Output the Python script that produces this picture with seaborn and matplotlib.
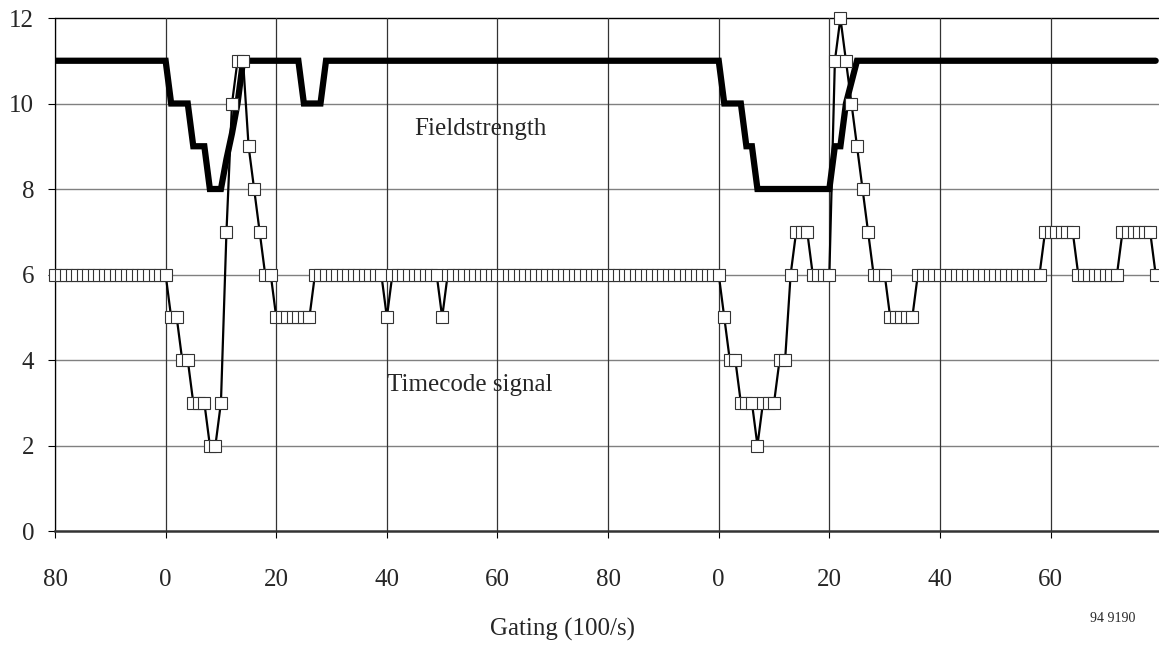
import matplotlib
matplotlib.use("Agg")
import matplotlib.pyplot as plt
import seaborn as sns
import numpy as np
import pandas as pd

# ---- data (one sample per 1/100 s) ----
timecode = [
    6, 6, 6, 6, 6, 6, 6, 6, 6, 6, 6, 6, 6, 6, 6, 6, 6, 6, 6, 6,
    6, 5, 5, 4, 4, 3, 3, 3, 2, 2, 3, 7, 10, 11, 11, 9, 8, 7, 6, 6,
    5, 5, 5, 5, 5, 5, 5, 6, 6, 6, 6, 6, 6, 6, 6, 6, 6, 6, 6, 6,
    5, 6, 6, 6, 6, 6, 6, 6, 6, 6, 5, 6, 6, 6, 6, 6, 6, 6, 6, 6,
    6, 6, 6, 6, 6, 6, 6, 6, 6, 6, 6, 6, 6, 6, 6, 6, 6, 6, 6, 6,
    6, 6, 6, 6, 6, 6, 6, 6, 6, 6, 6, 6, 6, 6, 6, 6, 6, 6, 6, 6,
    6, 5, 4, 4, 3, 3, 3, 2, 3, 3, 3, 4, 4, 6, 7, 7, 7, 6, 6, 6,
    6, 11, 12, 11, 10, 9, 8, 7, 6, 6, 6, 5, 5, 5, 5, 5, 6, 6, 6, 6,
    6, 6, 6, 6, 6, 6, 6, 6, 6, 6, 6, 6, 6, 6, 6, 6, 6, 6, 6, 7,
    7, 7, 7, 7, 7, 6, 6, 6, 6, 6, 6, 6, 6, 7, 7, 7, 7, 7, 7, 6,
]
fieldstrength = [
    11, 11, 11, 11, 11, 11, 11, 11, 11, 11, 11, 11, 11, 11, 11, 11, 11, 11, 11, 11,
    11, 10, 10, 10, 10, 9, 9, 9, 8, 8, 8, 8.7, 9.3, 10, 11, 11, 11, 11, 11, 11,
    11, 11, 11, 11, 11, 10, 10, 10, 10, 11, 11, 11, 11, 11, 11, 11, 11, 11, 11, 11,
    11, 11, 11, 11, 11, 11, 11, 11, 11, 11, 11, 11, 11, 11, 11, 11, 11, 11, 11, 11,
    11, 11, 11, 11, 11, 11, 11, 11, 11, 11, 11, 11, 11, 11, 11, 11, 11, 11, 11, 11,
    11, 11, 11, 11, 11, 11, 11, 11, 11, 11, 11, 11, 11, 11, 11, 11, 11, 11, 11, 11,
    11, 10, 10, 10, 10, 9, 9, 8, 8, 8, 8, 8, 8, 8, 8, 8, 8, 8, 8, 8,
    8, 9, 9, 10, 10.5, 11, 11, 11, 11, 11, 11, 11, 11, 11, 11, 11, 11, 11, 11, 11,
    11, 11, 11, 11, 11, 11, 11, 11, 11, 11, 11, 11, 11, 11, 11, 11, 11, 11, 11, 11,
    11, 11, 11, 11, 11, 11, 11, 11, 11, 11, 11, 11, 11, 11, 11, 11, 11, 11, 11, 11,
]
x_tick_positions = [0, 20, 40, 60, 80, 100, 120, 140, 160, 180]
x_tick_labels = ["80", "0", "20", "40", "60", "80", "0", "20", "40", "60"]
y_ticks = [0, 2, 4, 6, 8, 10, 12]

sample = list(range(len(timecode)))
df = pd.DataFrame({"sample": sample, "timecode": timecode, "field": fieldstrength})

sns.set_style("white")
plt.rcParams["font.family"] = ["Liberation Serif", "DejaVu Serif"]

W, H = 1159, 646
fig = plt.figure(figsize=(W / 100, H / 100), dpi=100)
ax = fig.add_axes([55 / W, 115 / H, (W - 55) / W, 513 / H])

sns.lineplot(data=df, x="sample", y="field", ax=ax, color="black",
             linewidth=4.5, zorder=3, solid_joinstyle="miter")
sns.lineplot(data=df, x="sample", y="timecode", ax=ax, color="black",
             linewidth=1.6, marker="s", markersize=8, markerfacecolor="white",
             markeredgecolor="#333333", markeredgewidth=0.8, zorder=4,
             clip_on=False)

ax.set_xlim(0, 199.6)
ax.set_ylim(0, 12)
ax.set_xticks(x_tick_positions)
ax.set_xticklabels(x_tick_labels)
ax.set_yticks(y_ticks)
ax.set_yticklabels([str(v) for v in y_ticks])
ax.tick_params(axis="x", direction="out", length=5, width=0.8, pad=22,
               labelsize=18, color="black", bottom=True)
ax.tick_params(axis="y", direction="out", length=5, width=0.8, pad=10,
               labelsize=18, color="black", left=True)

for y in [2, 4, 6, 8, 10]:
    ax.axhline(y, color="#808080", linewidth=1.0, zorder=1)
ax.axhline(12, color="black", linewidth=1.0, zorder=1, clip_on=False)
for xv in x_tick_positions:
    ax.axvline(xv, color="#333333", linewidth=0.9, zorder=1)

ax.spines["right"].set_visible(False)
ax.spines["top"].set_visible(False)
ax.spines["left"].set_color("black")
ax.spines["left"].set_linewidth(0.9)
ax.spines["bottom"].set_color("#333333")
ax.spines["bottom"].set_linewidth(1.8)

ax.set_xlabel("")
ax.set_ylabel("")

ax.text(65, 9.4, "Fieldstrength", fontsize=18, ha="left", va="center", zorder=5)
ax.text(60, 3.42, "Timecode signal", fontsize=18, ha="left", va="center", zorder=5)

fig.text(563 / W, 1 - 629 / H, "Gating (100/s)", fontsize=18, ha="center", va="center")
fig.text(1113 / W, 1 - 619 / H, "94 9190", fontsize=10, ha="center", va="center")

fig.savefig("out.png", dpi=100)
